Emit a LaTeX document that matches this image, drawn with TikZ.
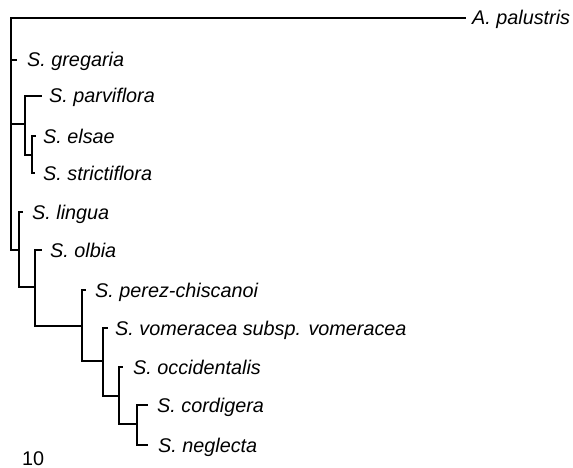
\documentclass[tikz,border=0pt]{standalone}
\usepackage{fontspec}
\setmainfont{Liberation Sans}
\begin{document}
\begin{tikzpicture}[x=1pt,y=-1pt,
  branch/.style={line width=1.8pt,line join=miter,line cap=rect},
  taxon/.style={anchor=base west,inner sep=0pt,font=\fontsize{19.8}{22}\selectfont\itshape},
  scalelabel/.style={anchor=base west,inner sep=0pt,font=\fontsize{19.8}{22}\selectfont}]
\useasboundingbox (0,0) rectangle (573,468);

% internal nodes of the tree
\coordinate (root) at (11,134);
\coordinate (n1) at (25,124);
\coordinate (n3) at (32,155);
\coordinate (n2) at (19,250);
\coordinate (n4) at (35,287);
\coordinate (n5) at (82,326);
\coordinate (n6) at (103,361);
\coordinate (n7) at (119,396);
\coordinate (n8) at (137,424);

% tips of the terminal branches
\coordinate (tpal) at (465,18);
\coordinate (tgre) at (16,60);
\coordinate (tpar) at (41,96);
\coordinate (tels) at (35,136);
\coordinate (tstr) at (34,173);
\coordinate (tlin) at (22,212);
\coordinate (tolb) at (41,250);
\coordinate (tper) at (85,290);
\coordinate (tvom) at (107,328);
\coordinate (tocc) at (122,367);
\coordinate (tcor) at (147,405);
\coordinate (tneg) at (147,445);

% taxon labels
\node[taxon] (pal) at (472,25) {A. palustris};
\node[taxon] (gre) at (27,67) {S. gregaria};
\node[taxon] (par) at (49,103) {S. parviflora};
\node[taxon] (els) at (43,143) {S. elsae};
\node[taxon] (str) at (43,180) {S. strictiflora};
\node[taxon] (lin) at (32,219) {S. lingua};
\node[taxon] (olb) at (50,257) {S. olbia};
\node[taxon] (per) at (95,297) {S. perez-chiscanoi};
\node[taxon] (vom) at (115,335) {S. vomeracea subsp. vomeracea};
\node[taxon] (occ) at (133,374) {S. occidentalis};
\node[taxon] (cor) at (157,412) {S. cordigera};
\node[taxon] (neg) at (158,452) {S. neglecta};

\node[scalelabel] (scale) at (22,465) {10};

% branches
\draw[branch] (root) |- (tpal);
\draw[branch] (root) |- (tgre);
\draw[branch] (root) |- (n1);
\draw[branch] (root) |- (n2);
\draw[branch] (n1) |- (tpar);
\draw[branch] (n1) |- (n3);
\draw[branch] (n3) |- (tels);
\draw[branch] (n3) |- (tstr);
\draw[branch] (n2) |- (tlin);
\draw[branch] (n2) |- (n4);
\draw[branch] (n4) |- (tolb);
\draw[branch] (n4) |- (n5);
\draw[branch] (n5) |- (tper);
\draw[branch] (n5) |- (n6);
\draw[branch] (n6) |- (tvom);
\draw[branch] (n6) |- (n7);
\draw[branch] (n7) |- (tocc);
\draw[branch] (n7) |- (n8);
\draw[branch] (n8) |- (tcor);
\draw[branch] (n8) |- (tneg);
\end{tikzpicture}
\end{document}
